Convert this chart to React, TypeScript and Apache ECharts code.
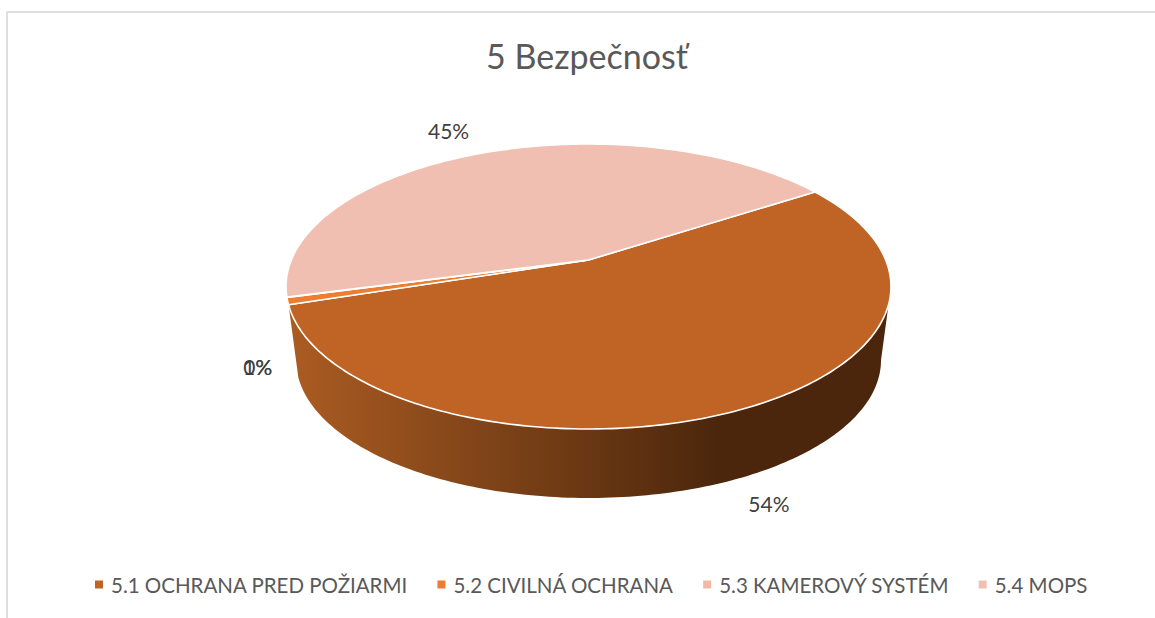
import React, { useEffect, useRef } from "react";
import * as echarts from "echarts";

const names = ["5.1 OCHRANA PRED POŽIARMI", "5.2 CIVILNÁ OCHRANA", "5.3 KAMEROVÝ SYSTÉM", "5.4 MOPS"];
const values = [54.2, 0.8, 0.05, 44.95];
const colors = ["#C06425", "#ED7D31", "#F4B9A6", "#F1BFB1"];
const labelOffsets = [[27, 94], [-30, 65], [-29, 69], [-37, -22]];
const firstAngle = 57;

// perspective projection of the pie disc
const CX = 588.5, A = 297.2, PA = 89.2, PB = 260, PC = -0.186, MIDY = 286.5;
const WALL_K = 0.967, WALL_DY = 73.7;
const project = (deg: number) => {
  const t = (deg * Math.PI) / 180;
  const u = Math.sin(t), v = -Math.cos(t), w = 1 + PC * v;
  return [CX + (A * u) / w, (PA * v + PB) / w];
};
const lower = (p: number[]) => [CX + WALL_K * (p[0] - CX), MIDY + WALL_DY + WALL_K * (p[1] - MIDY)];
const arc = (a: number, b: number) => {
  const n = Math.max(2, Math.ceil(Math.abs(b - a)));
  const pts: number[][] = [];
  for (let i = 0; i <= n; i++) pts.push(project(a + ((b - a) * i) / n));
  return pts;
};

const total = values.reduce((s, v) => s + v, 0);
const starts: number[] = [];
values.reduce((s, v, i) => {
  starts[i] = s;
  return s + (v / total) * 360;
}, firstAngle);

const FONT = "Lato";

export default function App() {
  const ref = useRef<HTMLDivElement>(null);
  useEffect(() => {
    document.body.style.margin = "0";
    const chart = echarts.init(ref.current!, undefined, { renderer: "svg" });
    const series = values.map((value, idx) => ({
      type: "custom",
      name: names[idx],
      coordinateSystem: "none",
      itemStyle: { color: colors[idx] },
      silent: true,
      z: 2,
      data: [[value]],
      renderItem: () => {
        const a0 = starts[idx];
        const a1 = a0 + (value / total) * 360;
        const children: any[] = [];
        if (idx === 0) {
          const top = arc(Math.max(a0, 100.7), a1);
          const bottom = top.map(lower).reverse();
          children.push({
            type: "polygon",
            shape: { points: [...top, ...bottom] },
            style: {
              fill: new echarts.graphic.LinearGradient(289, 0, 891, 0, [
                { offset: 0, color: "#AB5C22" },
                { offset: 0.72, color: "#4B260C" },
                { offset: 1, color: "#4B260C" },
              ], true),
            },
          });
        }
        children.push({
          type: "polygon",
          shape: { points: [[CX, PB], ...arc(a0, a1)] },
          style: { fill: colors[idx], stroke: "#FFFFFF", lineWidth: 1.6, lineJoin: "round" },
        });
        const mid = project((a0 + a1) / 2);
        children.push({
          type: "text",
          z2: 10,
          x: mid[0] + labelOffsets[idx][0],
          y: mid[1] + labelOffsets[idx][1],
          style: {
            text: `${Math.round((value / total) * 100)}%`,
            fill: "#404040",
            font: `21px ${FONT}`,
            align: "center",
            verticalAlign: "middle",
          },
        });
        return { type: "group", children };
      },
    }));
    chart.setOption({
      animation: false,
      backgroundColor: "#FFFFFF",
      title: {
        text: "5 Bezpečnosť",
        left: 582,
        top: 33,
        textAlign: "center",
        textStyle: { fontFamily: FONT, fontSize: 34, fontWeight: "normal", color: "#595959" },
      },
      legend: {
        data: names,
        left: 95,
        top: 574,
        icon: "rect",
        itemWidth: 8,
        itemHeight: 8,
        itemGap: 29.5,
        padding: 0,
        textStyle: { fontFamily: FONT, fontSize: 20.5, color: "#595959", padding: [0, 0, 0, 3] },
      },
      graphic: [
        { type: "line", shape: { x1: 6.5, y1: 12, x2: 1155, y2: 12 }, style: { stroke: "#DFDFDF", lineWidth: 2 } },
        { type: "line", shape: { x1: 7, y1: 12, x2: 7, y2: 618 }, style: { stroke: "#DFDFDF", lineWidth: 2 } },
      ],
      series,
    });
    return () => chart.dispose();
  }, []);
  return <div ref={ref} style={{ position: "absolute", left: 0, top: 0, width: 1155, height: 618 }} />;
}
